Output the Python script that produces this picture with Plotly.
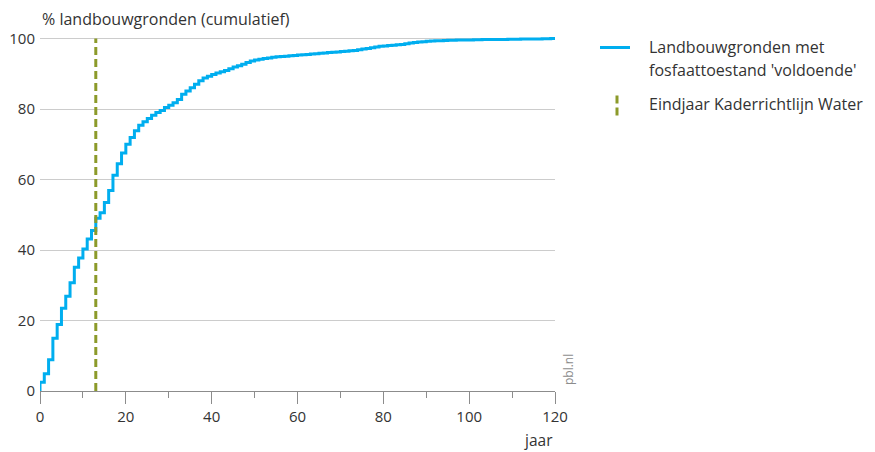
import plotly.graph_objects as go

# Data
years = list(range(0, 121))
# cumulative % of agricultural land reaching 'voldoende' phosphate status, value held from year t to t+1
pct = [
    2.5, 4.9, 8.9, 15.0, 18.9, 23.5, 26.9, 30.7, 35.1, 37.7,
    40.3, 43.1, 45.5, 49.0, 50.6, 53.5, 56.9, 61.2, 64.5, 67.5,
    70.0, 71.9, 73.8, 75.4, 76.4, 77.3, 78.2, 79.0, 79.6, 80.4,
    81.1, 81.8, 82.7, 84.2, 85.1, 86.0, 87.0, 88.0, 88.8, 89.3,
    89.8, 90.2, 90.6, 90.9, 91.4, 91.9, 92.3, 92.7, 93.2, 93.6,
    93.9, 94.1, 94.3, 94.5, 94.7, 94.8, 94.9, 95.0, 95.1, 95.2,
    95.3, 95.4, 95.5, 95.6, 95.7, 95.8, 95.9, 96.0, 96.1, 96.2,
    96.3, 96.4, 96.5, 96.6, 96.8, 97.0, 97.2, 97.4, 97.6, 97.8,
    97.9, 98.0, 98.1, 98.2, 98.3, 98.5, 98.7, 98.9, 99.0, 99.1,
    99.2, 99.3, 99.35, 99.4, 99.45, 99.5, 99.5, 99.55, 99.6, 99.6,
    99.6, 99.65, 99.65, 99.7, 99.7, 99.7, 99.75, 99.75, 99.75, 99.8,
    99.8, 99.8, 99.85, 99.85, 99.9, 99.9, 99.9, 99.95, 99.95, 100.0,
    100.0,
]
start_year = [0]
start_pct = [0]
kaderrichtlijn_year = 13
y_ticks = [0, 20, 40, 60, 80, 100]
x_ticks = [0, 20, 40, 60, 80, 100, 120]

series_name = "Landbouwgronden met<br>fosfaattoestand 'voldoende'"
kaderrichtlijn_name = "Eindjaar Kaderrichtlijn Water"

BLUE = "#00aeef"
OLIVE = "#8c9a2a"
TEXT = "#333333"
FONT = "Open Sans"

fig = go.Figure()
fig.add_trace(go.Scatter(
    x=start_year + years, y=start_pct + pct,
    mode="lines", line=dict(color=BLUE, width=3, shape="hv"),
    name=series_name,
))
fig.add_trace(go.Scatter(
    x=[kaderrichtlijn_year, kaderrichtlijn_year], y=[0, 100],
    mode="lines", line=dict(color=OLIVE, width=3, dash="8px,4px"),
    name=kaderrichtlijn_name, hoverinfo="skip",
))

# page body has an 8px margin: work in window pixels and offset
OFF = 8
W, H = 875 - OFF, 452 - OFF
PLOT_L, PLOT_R, PLOT_T, PLOT_B = 40, 555, 34.5, 391  # window pixels
L = PLOT_L - OFF
T = PLOT_T - OFF
R = W - (PLOT_R - OFF)
B = H - (PLOT_B - OFF)
pw, ph = PLOT_R - PLOT_L, PLOT_B - PLOT_T

def px(xp):
    return (xp - PLOT_L) / pw

def py(yp):
    return (PLOT_B - yp) / ph

fig.update_layout(
    width=W, height=H,
    margin=dict(l=L, r=R, t=T, b=B, autoexpand=False),
    paper_bgcolor="white", plot_bgcolor="white",
    showlegend=False,
    font=dict(family=FONT, size=15, color=TEXT),
    xaxis=dict(
        range=[0, 120], tickvals=x_ticks, ticks="outside", ticklen=12,
        tickcolor="#8c8c8c", tickwidth=1, showline=True, linecolor="#8c8c8c",
        linewidth=1, showgrid=False, zeroline=False,
        minor=dict(dtick=10, tick0=0, ticks="outside", ticklen=6, tickcolor="#8c8c8c", showgrid=False),
        tickfont=dict(size=15, color=TEXT),
    ),
    yaxis=dict(
        range=[0, 101], tickvals=y_ticks, showgrid=True, gridcolor="#cccccc",
        gridwidth=1, zeroline=False, showline=False, ticks="",
        ticklabelstandoff=4,
        tickfont=dict(size=15, color=TEXT),
    ),
)

LEG_FONT = dict(size=16, color=TEXT)
ann = [
    dict(text="% landbouwgronden (cumulatief)", x=0, y=1, xref="paper", yref="paper",
         xanchor="left", yanchor="middle", yshift=16, showarrow=False,
         font=dict(size=16, color=TEXT)),
    dict(text="jaar", x=1, y=0, xref="paper", yref="paper", xanchor="right",
         yanchor="middle", yshift=-49, showarrow=False, font=dict(size=15.5, color=TEXT)),
    dict(text="pbl.nl", x=1, y=py(370), xref="paper", yref="paper", xanchor="center",
         yanchor="middle", xshift=13, textangle=-90, showarrow=False,
         font=dict(size=12, color="#8c8c8c")),
    dict(text="Landbouwgronden met", x=px(647), y=py(47), xref="paper", yref="paper",
         xanchor="left", yanchor="middle", showarrow=False, font=LEG_FONT),
    dict(text="fosfaattoestand 'voldoende'", x=px(647), y=py(70), xref="paper", yref="paper",
         xanchor="left", yanchor="middle", showarrow=False, font=LEG_FONT),
    dict(text=kaderrichtlijn_name, x=px(647), y=py(104), xref="paper", yref="paper",
         xanchor="left", yanchor="middle", showarrow=False, font=LEG_FONT),
]
fig.update_layout(annotations=ann)

fig.add_shape(type="line", xref="paper", yref="paper", x0=px(600), x1=px(630),
              y0=py(47), y1=py(47), line=dict(color=BLUE, width=3))
fig.add_shape(type="line", xref="paper", yref="paper", x0=px(617), x1=px(617),
              y0=py(95), y1=py(116), line=dict(color=OLIVE, width=3, dash="8px,4px"))

fig.write_html("out.html")
